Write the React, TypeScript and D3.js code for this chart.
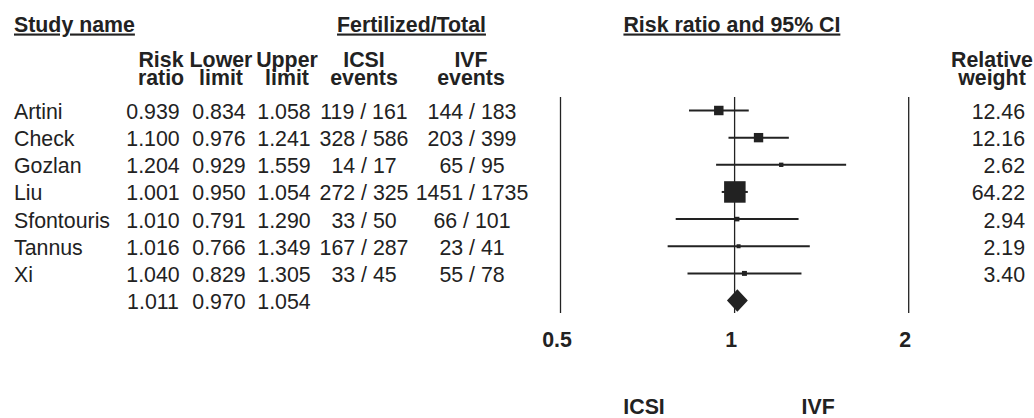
import React from "react";
import * as d3 from "d3";

const studies = ["Artini", "Check", "Gozlan", "Liu", "Sfontouris", "Tannus", "Xi"];
const riskRatio = [0.939, 1.1, 1.204, 1.001, 1.01, 1.016, 1.04];
const lowerLimit = [0.834, 0.976, 0.929, 0.95, 0.791, 0.766, 0.829];
const upperLimit = [1.058, 1.241, 1.559, 1.054, 1.29, 1.349, 1.305];
const icsiFertilized = [119, 328, 14, 272, 33, 167, 33];
const icsiTotal = [161, 586, 17, 325, 50, 287, 45];
const ivfFertilized = [144, 203, 65, 1451, 66, 23, 55];
const ivfTotal = [183, 399, 95, 1735, 101, 41, 78];
const relativeWeight = [12.46, 12.16, 2.62, 64.22, 2.94, 2.19, 3.4];
// pooled: estimate, lower, upper
const summary = [1.011, 0.97, 1.054];
const axisTicks = [0.5, 1, 2];
const favourLabels = ["ICSI", "IVF"];

const W = 1034;
const H = 418;
const FONT = "'Liberation Sans', Arial, sans-serif";
const INK = "#222";
const FS = 21.33;

const App = () => {
  const x = d3.scaleLog().domain([0.5, 2]).range([560.5, 908.7]);
  // row index -> text baseline
  const row = d3.scaleLinear().domain([0, 1]).range([119, 146.15]);
  const mid = (i: number) => row(i) - 8.5;
  const box = d3.scaleSqrt().domain([0, 64.22]).range([0, 21.5]);
  const f3 = d3.format(".3f");
  const f2 = d3.format(".2f");

  const colX = { rr: 153, lo: 219, up: 284, icsi: 364, ivf: 472 };
  const headX = { rr: 161, lo: 221, up: 287, icsi: 364, ivf: 471 };
  const top = 97;
  const bottom = 313;
  const n = studies.length;

  const header2 = (cx: number, a: string, b: string, key: string) => (
    <g key={key}>
      <text x={cx} y={66.5} textAnchor="middle" fontWeight="bold">{a}</text>
      <text x={cx} y={84.8} textAnchor="middle" fontWeight="bold">{b}</text>
    </g>
  );

  return (
    <svg width={W} height={H} style={{ position: "absolute", left: 0, top: 0 }}
      fontFamily={FONT} fontSize={FS} fill={INK}>
      <rect width={W} height={H} fill="#fff" />

      {/* top headers */}
      <text x={14} y={31.5} fontWeight="bold" textDecoration="underline">Study name</text>
      <text x={411.5} y={31.5} fontWeight="bold" textAnchor="middle" textDecoration="underline">Fertilized/Total</text>
      <text x={x(1) - 2.7} y={31.5} fontWeight="bold" textAnchor="middle" textDecoration="underline">Risk ratio and 95% CI</text>

      {header2(headX.rr, "Risk", "ratio", "rr")}
      {header2(headX.lo, "Lower", "limit", "lo")}
      {header2(headX.up, "Upper", "limit", "up")}
      {header2(headX.icsi, "ICSI", "events", "icsi")}
      {header2(headX.ivf, "IVF", "events", "ivf")}
      {header2(992, "Relative", "weight", "w")}

      {/* table rows */}
      {studies.map((s, i) => (
        <g key={s}>
          <text x={14} y={row(i)}>{s}</text>
          <text x={colX.rr} y={row(i)} textAnchor="middle">{f3(riskRatio[i])}</text>
          <text x={colX.lo} y={row(i)} textAnchor="middle">{f3(lowerLimit[i])}</text>
          <text x={colX.up} y={row(i)} textAnchor="middle">{f3(upperLimit[i])}</text>
          <text x={colX.icsi} y={row(i)} textAnchor="middle">{`${icsiFertilized[i]} / ${icsiTotal[i]}`}</text>
          <text x={colX.ivf} y={row(i)} textAnchor="middle">{`${ivfFertilized[i]} / ${ivfTotal[i]}`}</text>
          <text x={1025} y={row(i)} textAnchor="end">{f2(relativeWeight[i])}</text>
        </g>
      ))}
      <text x={colX.rr} y={row(n)} textAnchor="middle">{f3(summary[0])}</text>
      <text x={colX.lo} y={row(n)} textAnchor="middle">{f3(summary[1])}</text>
      <text x={colX.up} y={row(n)} textAnchor="middle">{f3(summary[2])}</text>

      {/* reference lines */}
      {axisTicks.map((t) => (
        <line key={t} x1={x(t)} x2={x(t)} y1={top} y2={bottom} stroke={INK} strokeWidth={1.3} />
      ))}

      {/* study CIs and boxes */}
      {studies.map((s, i) => {
        const side = Math.max(box(relativeWeight[i]), 4);
        return (
          <g key={s}>
            <line x1={x(lowerLimit[i])} x2={x(upperLimit[i])} y1={mid(i)} y2={mid(i)}
              stroke={INK} strokeWidth={2} />
            <rect x={x(riskRatio[i]) - side / 2} y={mid(i) - side / 2} width={side} height={side} fill={INK} />
          </g>
        );
      })}

      {/* pooled diamond */}
      <path
        d={`M${x(summary[1])},${mid(n)} L${x(summary[0])},${mid(n) - 11.2} L${x(summary[2])},${mid(n)} L${x(summary[0])},${mid(n) + 11.2} Z`}
        fill={INK}
      />

      {/* axis labels */}
      {axisTicks.map((t) => (
        <text key={t} x={x(t) - 3.5} y={347.3} textAnchor="middle" fontWeight="bold">{t}</text>
      ))}
      {favourLabels.map((lab, i) => {
        const cx = (x(axisTicks[i]) + x(axisTicks[i + 1])) / 2 - 3.5;
        return (
          <text key={lab} x={cx} y={413.5} textAnchor="middle" fontWeight="bold">{lab}</text>
        );
      })}
    </svg>
  );
};

export default App;
